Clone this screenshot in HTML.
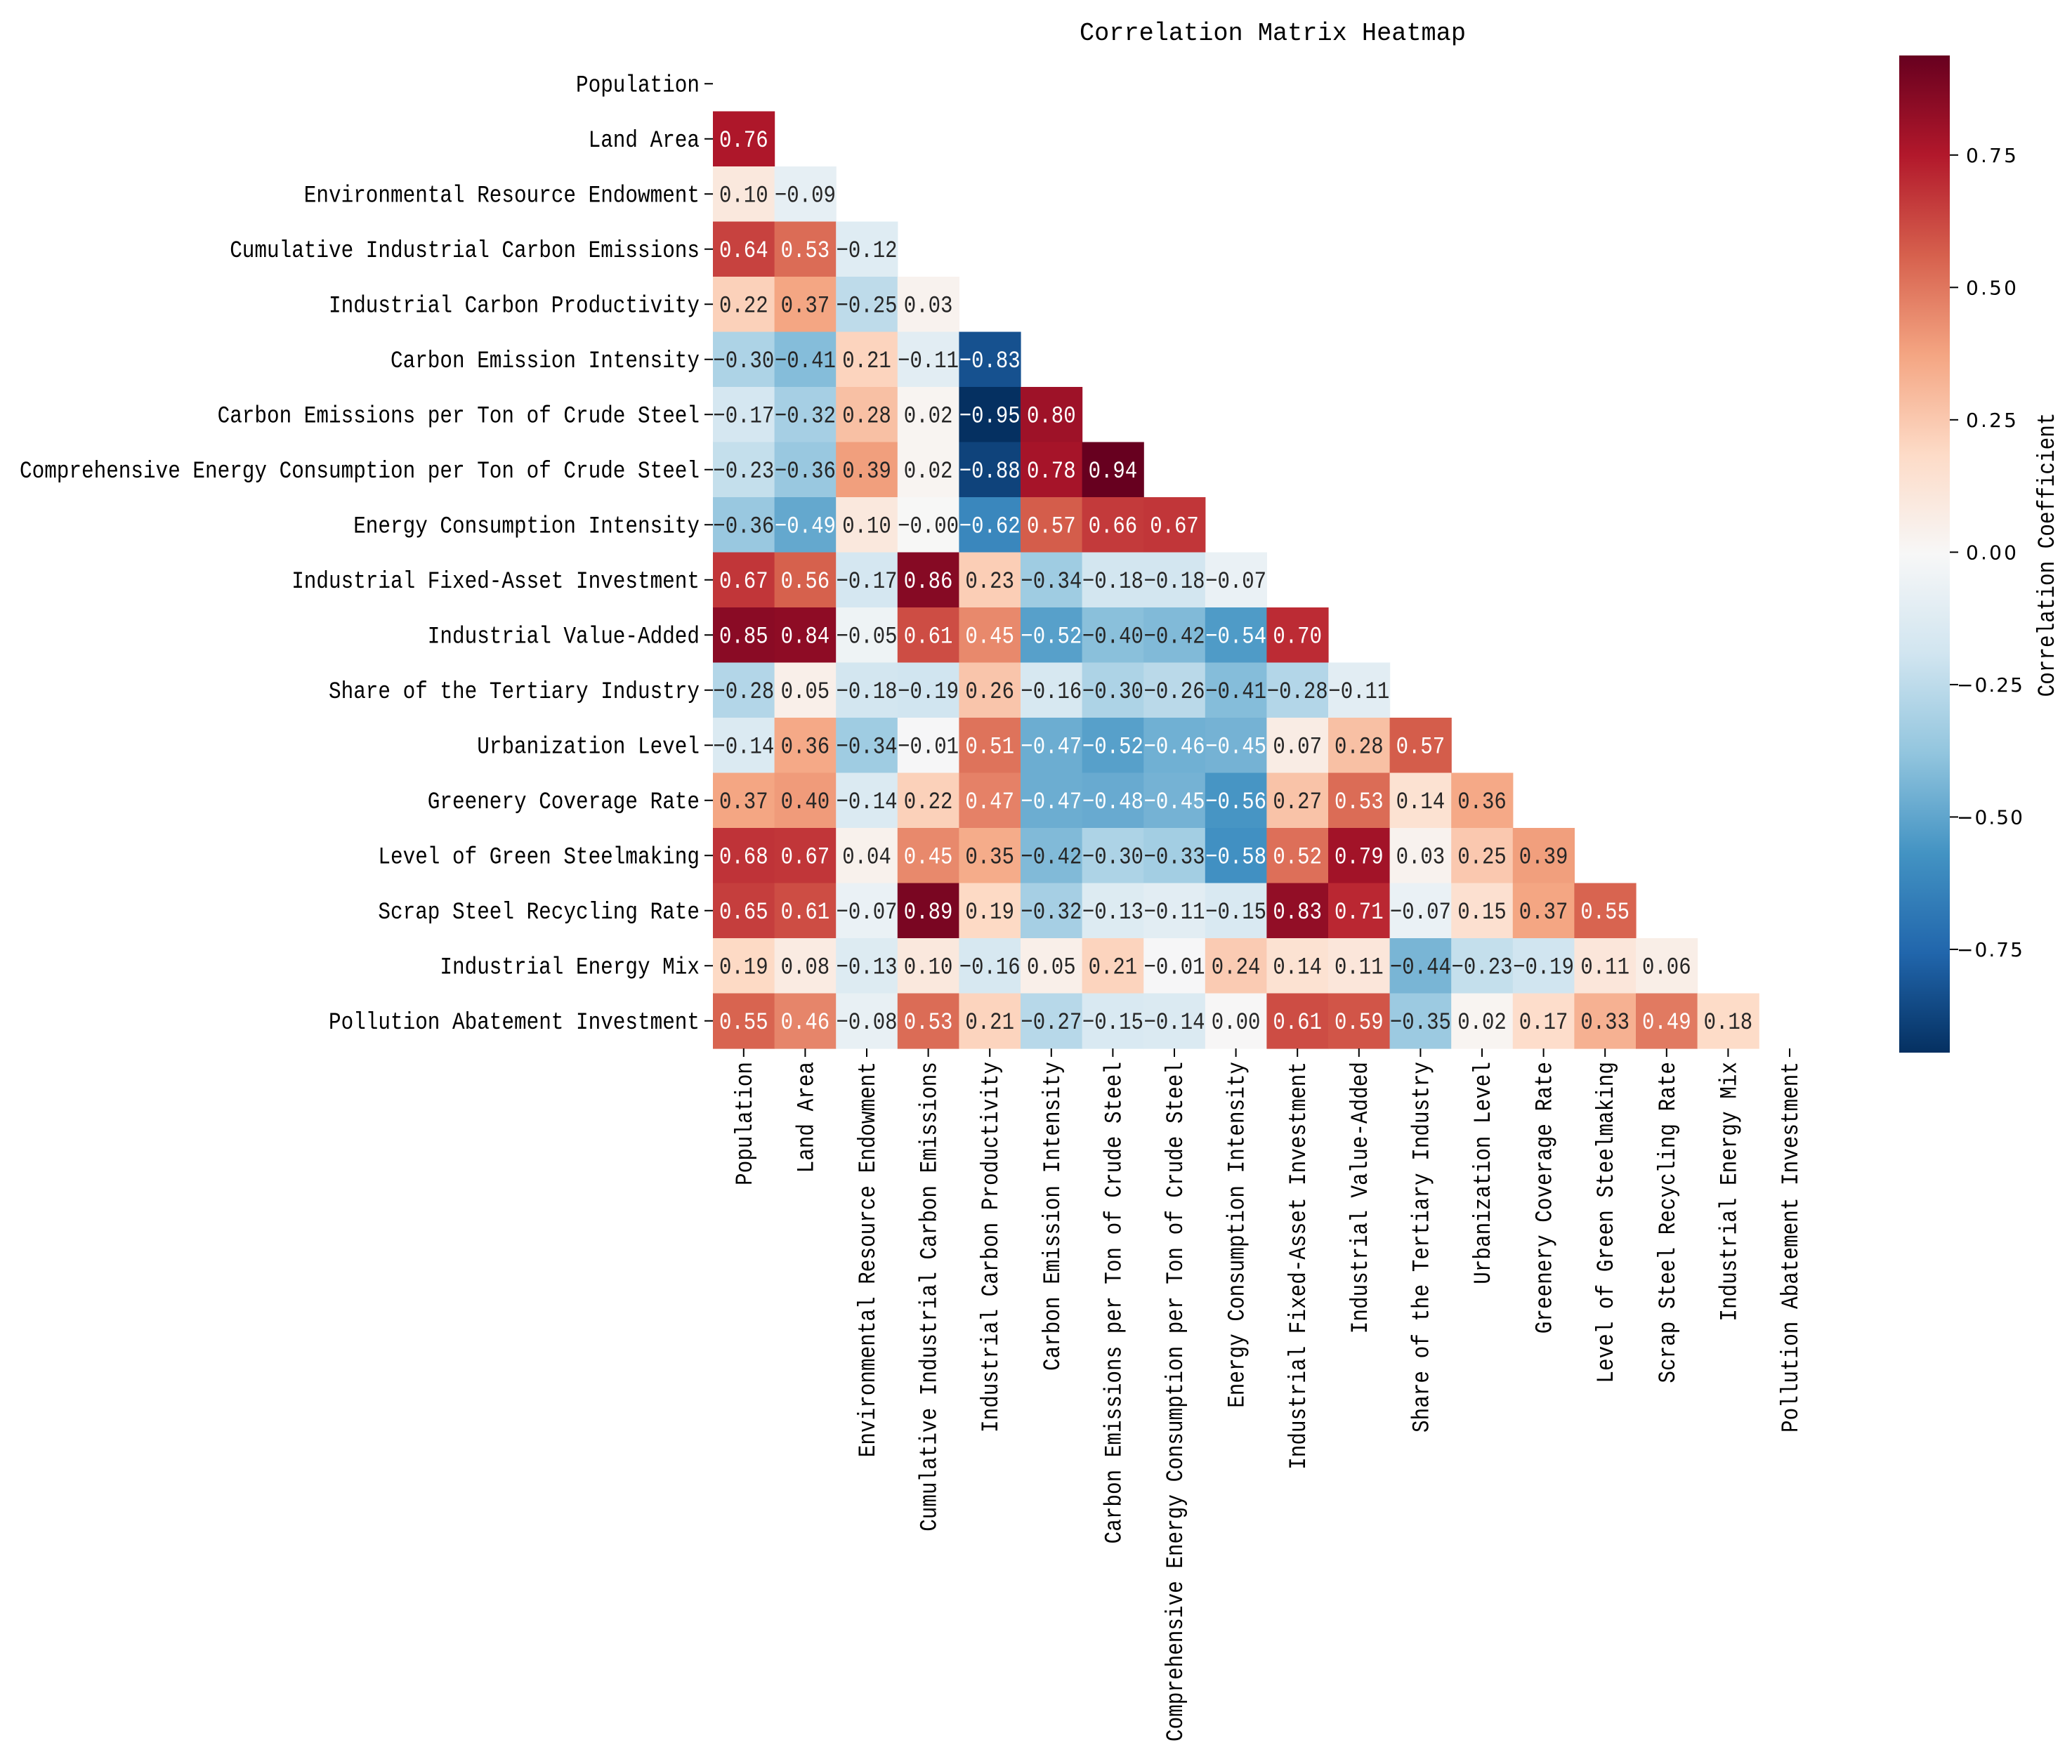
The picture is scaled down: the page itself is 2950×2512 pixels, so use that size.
<!DOCTYPE html>
<html><head><meta charset="utf-8"><style>
html,body{margin:0;padding:0;background:#fff;}
svg{display:block;}
text{font-family:"Liberation Mono","WenQuanYi Zen Hei",monospace;}
</style></head><body>
<svg id="chart" width="2950" height="2512" viewBox="0 0 2950 2512" xmlns="http://www.w3.org/2000/svg">
<defs>
<linearGradient id="cbgrad" x1="0" y1="1" x2="0" y2="0">
<stop offset="0" stop-color="#053061"/><stop offset="0.1" stop-color="#2166ac"/><stop offset="0.2" stop-color="#4393c3"/><stop offset="0.3" stop-color="#92c5de"/><stop offset="0.4" stop-color="#d1e5f0"/><stop offset="0.5" stop-color="#f7f7f7"/><stop offset="0.6" stop-color="#fddbc7"/><stop offset="0.7" stop-color="#f4a582"/><stop offset="0.8" stop-color="#d6604d"/><stop offset="0.9" stop-color="#b2182b"/><stop offset="1" stop-color="#67001f"/>
</linearGradient>
</defs>
<text x="1812" y="57" font-size="36" text-anchor="middle" textLength="550" lengthAdjust="spacingAndGlyphs">Correlation Matrix Heatmap</text>
<g id="cells"></g>
<g id="ylabels"></g>
<g id="xlabels"></g>
<g id="cbar"></g>
</svg>
<script>
const labels = ["Population","Land Area","Environmental Resource Endowment","Cumulative Industrial Carbon Emissions","Industrial Carbon Productivity","Carbon Emission Intensity","Carbon Emissions per Ton of Crude Steel","Comprehensive Energy Consumption per Ton of Crude Steel","Energy Consumption Intensity","Industrial Fixed-Asset Investment","Industrial Value-Added","Share of the Tertiary Industry","Urbanization Level","Greenery Coverage Rate","Level of Green Steelmaking","Scrap Steel Recycling Rate","Industrial Energy Mix","Pollution Abatement Investment"];
const row1 = [0.76];
const row2 = [0.10,-0.09];
const row3 = [0.64,0.53,-0.12];
const row4 = [0.22,0.37,-0.25,0.03];
const row5 = [-0.30,-0.41,0.21,-0.11,-0.83];
const row6 = [-0.17,-0.32,0.28,0.02,-0.95,0.80];
const row7 = [-0.23,-0.36,0.39,0.02,-0.88,0.78,0.94];
const row8 = [-0.36,-0.49,0.10,-0.001,-0.62,0.57,0.66,0.67];
const row9 = [0.67,0.56,-0.17,0.86,0.23,-0.34,-0.18,-0.18,-0.07];
const row10 = [0.85,0.84,-0.05,0.61,0.45,-0.52,-0.40,-0.42,-0.54,0.70];
const row11 = [-0.28,0.05,-0.18,-0.19,0.26,-0.16,-0.30,-0.26,-0.41,-0.28,-0.11];
const row12 = [-0.14,0.36,-0.34,-0.01,0.51,-0.47,-0.52,-0.46,-0.45,0.07,0.28,0.57];
const row13 = [0.37,0.40,-0.14,0.22,0.47,-0.47,-0.48,-0.45,-0.56,0.27,0.53,0.14,0.36];
const row14 = [0.68,0.67,0.04,0.45,0.35,-0.42,-0.30,-0.33,-0.58,0.52,0.79,0.03,0.25,0.39];
const row15 = [0.65,0.61,-0.07,0.89,0.19,-0.32,-0.13,-0.11,-0.15,0.83,0.71,-0.07,0.15,0.37,0.55];
const row16 = [0.19,0.08,-0.13,0.10,-0.16,0.05,0.21,-0.01,0.24,0.14,0.11,-0.44,-0.23,-0.19,0.11,0.06];
const row17 = [0.55,0.46,-0.08,0.53,0.21,-0.27,-0.15,-0.14,0.001,0.61,0.59,-0.35,0.02,0.17,0.33,0.49,0.18];
const rows = [[],row1,row2,row3,row4,row5,row6,row7,row8,row9,row10,row11,row12,row13,row14,row15,row16,row17];
const cbTicks = [0.75,0.50,0.25,0.00,-0.25,-0.50,-0.75];
const vmin = -0.945, vmax = 0.938;

const NS = "http://www.w3.org/2000/svg";
const X0 = 1015, CW = 87.6, Y0 = 80, RH = 78.5;
const xPos = i => X0 + i*CW;
const yPos = i => Y0 + i*RH;
const stops = ["#053061","#2166ac","#4393c3","#92c5de","#d1e5f0","#f7f7f7","#fddbc7","#f4a582","#d6604d","#b2182b","#67001f"].map(h=>[parseInt(h.slice(1,3),16),parseInt(h.slice(3,5),16),parseInt(h.slice(5,7),16)]);
function cmap(v){
  let t=(v-vmin)/(vmax-vmin); t=Math.max(0,Math.min(1,t));
  const p=t*10, i=Math.min(9,Math.floor(p)), f=p-i;
  return stops[i].map((c,k)=>c+(stops[i+1][k]-c)*f);
}
function lum(rgb){
  const c=rgb.map(x=>{x/=255;return x<=0.03928?x/12.92:Math.pow((x+0.055)/1.055,2.4);});
  return 0.2126*c[0]+0.7152*c[1]+0.0722*c[2];
}
function mk(tag,attrs,parent){const e=document.createElementNS(NS,tag);for(const k in attrs)e.setAttribute(k,attrs[k]);parent.appendChild(e);return e;}
const fmt = v => { const s=v.toFixed(2); return s.replace("-","\u2212"); };

const gC=document.getElementById("cells");
rows.forEach((r,i)=>{
  r.forEach((v,j)=>{
    const rgb=cmap(v);
    const rc=mk("rect",{x:xPos(j),y:yPos(i),width:CW+0.6,height:RH+0.6,fill:`rgb(${rgb.map(Math.round).join(",")})`},gC);
    
    
    const s=fmt(v);
    const t=mk("text",{x:xPos(j)+CW/2,y:yPos(i)+RH/2+11,"font-size":34,"text-anchor":"middle",fill:lum(rgb)>0.408?"#262626":"#ffffff",textLength:s.length*17.4,lengthAdjust:"spacingAndGlyphs"},gC);
    t.textContent=s;
    
    
  });
});
const gY=document.getElementById("ylabels");
labels.forEach((l,i)=>{
  const cy=yPos(i)+RH/2;
  const tk=mk("line",{x1:X0-12,x2:X0,y1:cy,y2:cy,stroke:"#000","stroke-width":2},gY);
  
  
  const t=mk("text",{x:X0-19,y:cy+11,"font-size":34,"text-anchor":"end",fill:"#000",textLength:l.length*17.6,lengthAdjust:"spacingAndGlyphs"},gY);
  t.textContent=l;
  
  
});
const gX=document.getElementById("xlabels");
const YB=yPos(18);
labels.forEach((l,i)=>{
  const cx=xPos(i)+CW/2;
  const tk=mk("line",{x1:cx,x2:cx,y1:YB,y2:YB+12,stroke:"#000","stroke-width":2},gX);
  
  
  const t=mk("text",{x:0,y:0,"font-size":34,"text-anchor":"end",fill:"#000",transform:`translate(${cx+11},${YB+19}) rotate(-90)`,textLength:l.length*17.6,lengthAdjust:"spacingAndGlyphs"},gX);
  t.textContent=l;
  
  
});
const gB=document.getElementById("cbar");
const CBX=2704, CBW=72, CBT=79, CBB=1499;
const cbY = v => CBB - (v-vmin)/(vmax-vmin)*(CBB-CBT);
const bar=mk("rect",{x:CBX,y:CBT,width:CBW,height:CBB-CBT,fill:"url(#cbgrad)"},gB);


cbTicks.forEach(v=>{
  const y=cbY(v);
  const tk=mk("line",{x1:CBX+CBW,x2:CBX+CBW+12,y1:y,y2:y,stroke:"#000","stroke-width":2},gB);
  
  
  const s=(v<0?"\u2212":"")+Math.abs(v).toFixed(2);
  const t=mk("text",{x:CBX+CBW+(v<0?10:23),y:y+10,"font-size":28,fill:"#000",textLength:v<0?94:72,lengthAdjust:"spacing",style:'font-family:"DejaVu Sans","Liberation Sans",sans-serif'},gB);
  t.textContent=s;
  
  
});
const cl=mk("text",{x:0,y:0,"font-size":34,"text-anchor":"middle",fill:"#000",transform:"translate(2924,790) rotate(-90)",textLength:23*17.6,lengthAdjust:"spacingAndGlyphs"},gB);
cl.textContent="Correlation Coefficient";


</script>
</body></html>
